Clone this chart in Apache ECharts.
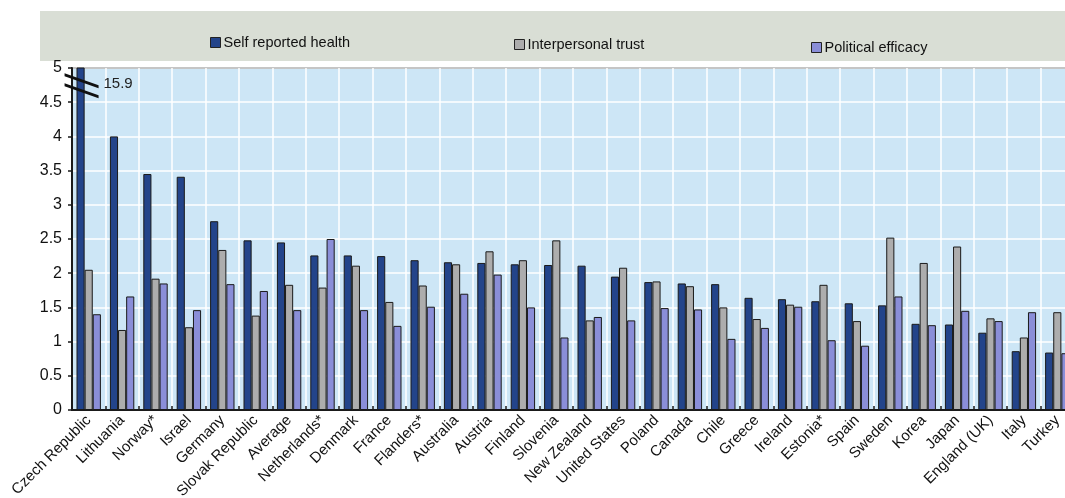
<!DOCTYPE html>
<html>
<head>
<meta charset="utf-8">
<script src="https://cdn.jsdelivr.net/npm/echarts@6/dist/echarts.min.js"></script>
<style>
html,body{margin:0;padding:0;background:#ffffff;overflow:hidden;}
#chart{width:1065px;height:498px;}
</style>
</head>
<body>
<div id="chart"></div>
<script>
const categories = ['Czech Republic','Lithuania','Norway*','Israel','Germany','Slovak Republic','Average','Netherlands*','Denmark','France','Flanders*','Australia','Austria','Finland','Slovenia','New Zealand','United States','Poland','Canada','Chile','Greece','Ireland','Estonia*','Spain','Sweden','Korea','Japan','England (UK)','Italy','Turkey'];
const selfReportedHealth = [15.9,4.00,3.45,3.41,2.76,2.48,2.45,2.26,2.26,2.25,2.19,2.16,2.15,2.13,2.12,2.11,1.95,1.87,1.85,1.84,1.64,1.62,1.59,1.56,1.53,1.26,1.25,1.13,0.86,0.84];
const interpersonalTrust = [2.05,1.17,1.92,1.21,2.34,1.38,1.83,1.79,2.11,1.58,1.82,2.13,2.32,2.19,2.48,1.31,2.08,1.88,1.81,1.50,1.33,1.54,1.83,1.30,2.52,2.15,2.39,1.34,1.06,1.43];
const politicalEfficacy = [1.40,1.66,1.85,1.46,1.84,1.74,1.46,2.50,1.46,1.23,1.51,1.70,1.98,1.50,1.06,1.36,1.31,1.49,1.47,1.04,1.20,1.51,1.02,0.94,1.66,1.24,1.45,1.30,1.43,0.83];
const seriesNames = ['Self reported health','Interpersonal trust','Political efficacy'];
const yMin = 0, yMax = 5, yStep = 0.5;
const breakValue = 4.74;
const truncatedLabel = '15.9';

const FONT = "'Liberation Sans', Arial, sans-serif";
const colors = ['#23448a', '#adadad', '#8a8ed8'];

const chart = echarts.init(document.getElementById('chart'), null, {renderer: 'canvas'});

const healthData = selfReportedHealth.map((v, i) => i === 0 ? {
  value: v,
  label: {show: true, position: [27, 9], formatter: truncatedLabel, fontFamily: FONT, fontSize: 15, color: '#222'}
} : v);

function legend(name, left, top) {
  return {
    data: [name], left: left, top: top, icon: 'rect', itemWidth: 10, itemHeight: 10, itemGap: 3,
    textStyle: {fontFamily: FONT, fontSize: 14.5, color: '#111', padding: [0,0,0,-2]},
    itemStyle: {borderColor: '#222', borderWidth: 1}
  };
}

const option = {
  animation: false,
  backgroundColor: '#ffffff',
  graphic: [{
    type: 'rect', left: 40, top: 11, z: -10, silent: true,
    shape: {width: 1025, height: 50},
    style: {fill: '#d9ded5'}
  }],
  legend: [
    legend(seriesNames[0], 205, 30),
    legend(seriesNames[1], 509, 32),
    legend(seriesNames[2], 806, 35)
  ],
  grid: {
    left: 72, width: 1002, top: 68, bottom: 88,
    show: true, backgroundColor: '#cde6f6', borderColor: '#1a1a1a', borderWidth: 2,
    containLabel: false, outerBoundsMode: 'none'
  },
  xAxis: {
    type: 'category', data: categories,
    axisLine: {lineStyle: {color: '#1a1a1a', width: 2}},
    axisTick: {show: true, inside: true, length: 4, lineStyle: {color: '#1a1a1a', width: 1.5}},
    axisLabel: {rotate: 45, interval: 0, margin: 8, fontFamily: FONT, fontSize: 15, color: '#111'},
    splitLine: {show: true, interval: 0, lineStyle: {color: '#ffffff', width: 1.5}}
  },
  yAxis: {
    type: 'value', min: yMin, max: yMax, interval: yStep,
    axisLine: {show: true, lineStyle: {color: '#1a1a1a', width: 2}},
    axisTick: {show: true, length: 4, lineStyle: {color: '#1a1a1a', width: 1.5}},
    axisLabel: {margin: 10, fontFamily: FONT, fontSize: 16, color: '#111'},
    splitLine: {show: true, lineStyle: {color: '#ffffff', width: 1.5}}
  },
  series: [
    {
      name: seriesNames[0], type: 'bar', data: healthData, clip: true,
      barGap: '0%', barCategoryGap: '27%',
      itemStyle: {color: colors[0], borderColor: '#1a1a1a', borderWidth: 1},
      markPoint: {
        silent: true,
        symbol: 'path://M0,0L34,12L34,15L0,3Z M0,10L34,22L34,25L0,13Z',
        symbolSize: [34, 25], symbolOffset: [1, 0],
        itemStyle: {color: '#111', borderWidth: 0},
        label: {show: false},
        data: [{coord: [categories[0], breakValue]}]
      }
    },
    {
      name: seriesNames[1], type: 'bar', data: interpersonalTrust,
      barGap: '0%', barCategoryGap: '27%',
      itemStyle: {color: colors[1], borderColor: '#1a1a1a', borderWidth: 1}
    },
    {
      name: seriesNames[2], type: 'bar', data: politicalEfficacy,
      barGap: '0%', barCategoryGap: '27%',
      itemStyle: {color: colors[2], borderColor: '#1a1a1a', borderWidth: 1}
    }
  ]
};
chart.setOption(option);
</script>
</body>
</html>
